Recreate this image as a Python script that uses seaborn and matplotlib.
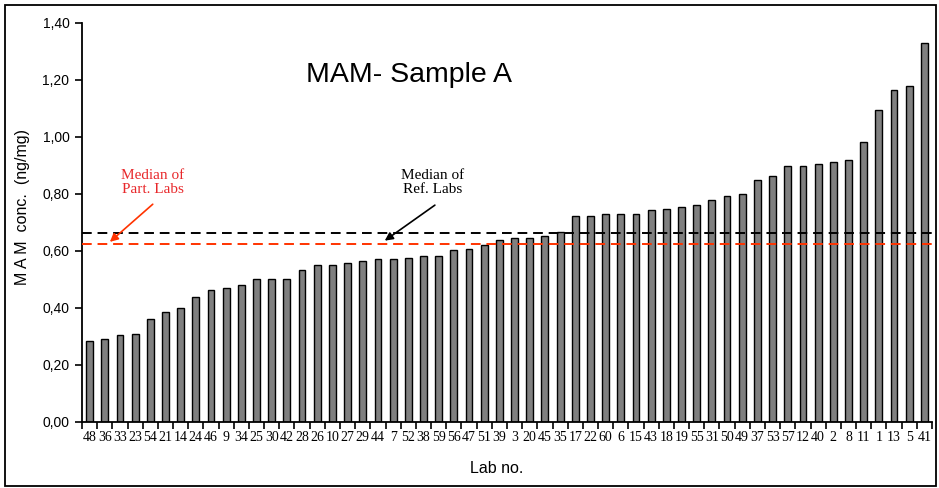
import matplotlib
matplotlib.use("Agg")
import matplotlib.pyplot as plt
import seaborn as sns
import pandas as pd
import numpy as np
from matplotlib.ticker import FuncFormatter, FixedLocator
from matplotlib.patches import Rectangle

labs = ["48", "36", "33", "23", "54", "21", "14", "24", "46", "9", "34", "25", "30", "42",
        "28", "26", "10", "27", "29", "44", "7", "52", "38", "59", "56", "47", "51", "39",
        "3", "20", "45", "35", "17", "22", "60", "6", "15", "43", "18", "19", "55", "31",
        "50", "49", "37", "53", "57", "12", "40", "2", "8", "11", "1", "13", "5", "41"]
values = [0.284, 0.290, 0.303, 0.308, 0.361, 0.386, 0.399, 0.437, 0.463, 0.468, 0.481,
          0.500, 0.500, 0.500, 0.533, 0.550, 0.550, 0.556, 0.564, 0.570, 0.570, 0.575,
          0.582, 0.582, 0.602, 0.608, 0.620, 0.639, 0.646, 0.646, 0.652, 0.667, 0.722,
          0.722, 0.729, 0.729, 0.729, 0.742, 0.746, 0.753, 0.762, 0.779, 0.792, 0.799,
          0.848, 0.862, 0.899, 0.899, 0.905, 0.911, 0.918, 0.981, 1.096, 1.166, 1.179, 1.330]
median_ref = 0.664
median_part = 0.625
yticks = [0.0, 0.2, 0.4, 0.6, 0.8, 1.0, 1.2, 1.4]

sns.set_style("white")
plt.rcParams['font.family'] = ['Liberation Sans', 'DejaVu Sans']
plt.rcParams['text.color'] = 'black'
plt.rcParams['axes.labelcolor'] = 'black'
plt.rcParams['xtick.color'] = 'black'
plt.rcParams['ytick.color'] = 'black'

df = pd.DataFrame({"lab": labs, "conc": values})

fig = plt.figure(figsize=(9.39, 4.88), dpi=100)
ax = fig.add_axes([0.0873, 0.1359, 0.9052, 0.817])

sns.barplot(data=df, x="lab", y="conc", order=labs, color="#808080", saturation=1,
            edgecolor="black", linewidth=1.0, width=0.45, ax=ax)

ax.set_xlim(-0.5, len(labs) - 0.5)
ax.set_ylim(0, 1.4)

ax.axhline(median_ref, color="black", lw=1.4, ls=(0, (5, 3)), zorder=3)
ax.axhline(median_part, color="#ff3300", lw=1.4, ls=(0, (5, 3)), zorder=3)

for s in ["top", "right"]:
    ax.spines[s].set_visible(False)
for s in ["left", "bottom"]:
    ax.spines[s].set_color("black")
    ax.spines[s].set_linewidth(1.3)

ax.yaxis.set_major_locator(FixedLocator(yticks))
ax.yaxis.set_major_formatter(FuncFormatter(lambda v, p: f"{v:.2f}".replace(".", ",")))
ax.tick_params(axis="y", direction="out", length=5, width=1.2, labelsize=10, pad=4, left=True)

ax.set_xticks(range(len(labs)))
ax.set_xticklabels(labs, fontfamily=["Liberation Serif", "DejaVu Serif"], fontsize=10)
ax.tick_params(axis="x", which="major", length=0, pad=7)
ax.set_xticks(np.arange(-0.5, len(labs), 1.0), minor=True)
ax.tick_params(axis="x", which="minor", direction="out", length=5, width=1.2, bottom=True)

ax.set_ylabel("M A M  conc.  (ng/mg)", fontsize=11.5)
ax.yaxis.set_label_coords(-0.061, 0.538)
ax.set_xlabel("Lab no.", fontsize=11.5)
ax.xaxis.set_label_coords(0.488, -0.098)
ax.grid(False)

ax.text(0.385, 0.87, "MAM- Sample A", transform=ax.transAxes, fontsize=20.5,
        ha="center", va="center")

ax.annotate("", xy=(1.2, median_part), xytext=(4.3, 0.770),
            arrowprops=dict(arrowstyle="-|>", color="#ff3300", lw=1.2, mutation_scale=12))
ax.text(4.15, 0.84, "Median of\nPart. Labs", color="#e8282b", fontsize=11,
        fontfamily=["Liberation Serif", "DejaVu Serif"], ha="center", va="center",
        linespacing=1.1)

ax.annotate("", xy=(19.3, 0.630), xytext=(22.9, 0.766),
            arrowprops=dict(arrowstyle="-|>", color="black", lw=1.2, mutation_scale=12))
ax.text(22.6, 0.84, "Median of\nRef. Labs", color="black", fontsize=11,
        fontfamily=["Liberation Serif", "DejaVu Serif"], ha="center", va="center",
        linespacing=1.1)

fig.patches.append(Rectangle((0.0053, 0.004), 0.992, 0.986, transform=fig.transFigure,
                             fill=False, edgecolor="black", lw=1.3))

fig.savefig("out.png", dpi=100)
